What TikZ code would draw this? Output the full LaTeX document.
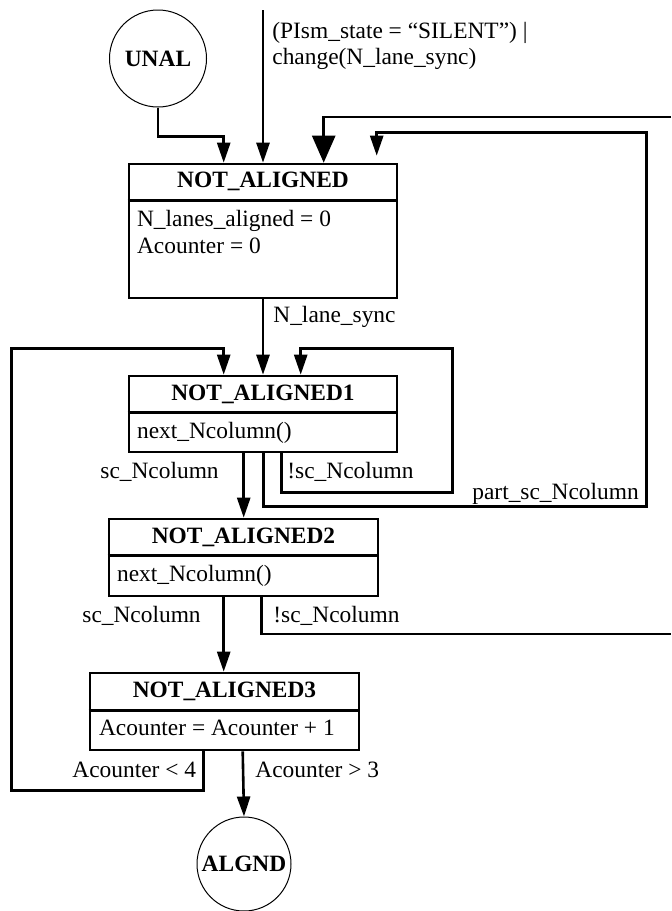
\documentclass[tikz,border=0pt]{standalone}
\usepackage{fontspec}
\setmainfont{Liberation Serif}
\usetikzlibrary{arrows.meta,calc}
\begin{document}
\begin{tikzpicture}[x=0.5pt,y=-0.5pt,
  font=\fontsize{11.7}{14}\selectfont,
  box/.style={draw,line width=1.3pt,rectangle,inner sep=0pt},
  st/.style={draw,circle,line width=0.5pt,inner sep=0pt,minimum size=48.5pt,font=\fontsize{11.7}{14}\selectfont\bfseries},
  conn/.style={line width=1.3pt},
  arr/.style={conn,-{Triangle[length=10pt,width=6.5pt]}},
  bigarr/.style={conn,-{Triangle[length=13.5pt,width=11.5pt]}},
  lbl/.style={inner sep=0pt,anchor=base west},
  ttl/.style={inner sep=0pt,anchor=base,font=\fontsize{11.7}{14}\selectfont\bfseries}]
\useasboundingbox (0,0) rectangle (671,911);

% states
\node[st] (unal) at (158,58.5) {UNAL};
\node[st,minimum size=47pt] (algnd) at (244,864) {ALGND};

\node[box,minimum width=134pt,minimum height=67pt] (na) at (263,231) {};
\node[box,minimum width=134pt,minimum height=38pt] (na1) at (263,414) {};
\node[box,minimum width=134.5pt,minimum height=38.5pt] (na2) at (243.5,557.5) {};
\node[box,minimum width=134.5pt,minimum height=38.5pt] (na3) at (224.5,711.5) {};

% dividers
\draw[conn] ($(na.north west)+(0,38)$) -- ($(na.north east)+(0,38)$);
\draw[conn] ($(na1.north west)+(0,38)$) -- ($(na1.north east)+(0,38)$);
\draw[conn] ($(na2.north west)+(0,38)$) -- ($(na2.north east)+(0,38)$);
\draw[conn] ($(na3.north west)+(0,39)$) -- ($(na3.north east)+(0,39)$);

% titles and bodies
\node[ttl] (na-t) at ($(na.north)+(0,25)$) {NOT\_ALIGNED};
\node[lbl] (na-b1) at ($(na.north west)+(9,64)$) {N\_lanes\_aligned = 0};
\node[lbl] (na-b2) at ($(na.north west)+(9,91)$) {Acounter = 0};
\node[ttl] (na1-t) at ($(na1.north)+(0,26)$) {NOT\_ALIGNED1};
\node[lbl] (na1-b) at ($(na1.north west)+(9,64)$) {next\_Ncolumn()};
\node[ttl] (na2-t) at ($(na2.north)+(0,26)$) {NOT\_ALIGNED2};
\node[lbl] (na2-b) at ($(na2.north west)+(9,64)$) {next\_Ncolumn()};
\node[ttl] (na3-t) at ($(na3.north)+(0,26)$) {NOT\_ALIGNED3};
\node[lbl] (na3-b) at ($(na3.north west)+(10,64)$) {Acounter = Acounter + 1};

% free ends
\coordinate (src) at (263,10);
\coordinate (ext1) at (671,117);
\coordinate (ext2) at (671,634);

% connectors
\draw[arr] (unal.south) -- ++(0,29) -| ($(na.north west)+(96,0)$);
\draw[arr] (src) -- (na.north);
\draw[bigarr] (ext1) -| ($(na.north west)+(196,0)$);
\draw[arr] ($(na1.south west)+(136,0)$) -- ++(0,53) -| ++(383,-374) -| ($(na.north west)+(249,-7)$);
\draw[arr] (na.south) -- (na1.north);
\draw[arr] ($(na3.south west)+(115,0)$) -- ++(0,39) -| ++(-192,-442) -| ($(na1.north west)+(96,0)$);
\draw[arr] ($(na1.south west)+(154,0)$) -- ++(0,39) -| ++(171,-144) -| ($(na1.north west)+(173,0)$);
\draw[arr] ($(na1.south west)+(116,0)$) -- ($(na2.north west)+(136,0)$);
\draw[conn] ($(na2.south west)+(154,0)$) |- (ext2);
\draw[arr] ($(na2.south west)+(116,0)$) -- ($(na3.north west)+(135,0)$);
\draw[arr] ($(na3.south west)+(154,0)$) -- (algnd.north);

% labels
\node[lbl] (l-e1) at (272,38) {(PIsm\_state = “SILENT”) |};
\node[lbl] (l-e2) at (272,64) {change(N\_lane\_sync)};
\node[lbl] (l-sync) at (273,322) {N\_lane\_sync};
\node[lbl] (l-sc1) at (100,478) {sc\_Ncolumn};
\node[lbl] (l-nsc1) at (287,478) {!sc\_Ncolumn};
\node[lbl] (l-part) at (472,499) {part\_sc\_Ncolumn};
\node[lbl] (l-sc2) at (82,622) {sc\_Ncolumn};
\node[lbl] (l-nsc2) at (273,622) {!sc\_Ncolumn};
\node[lbl] (l-lt) at (72,777) {Acounter < 4};
\node[lbl] (l-gt) at (255,777) {Acounter > 3};
\end{tikzpicture}
\end{document}
